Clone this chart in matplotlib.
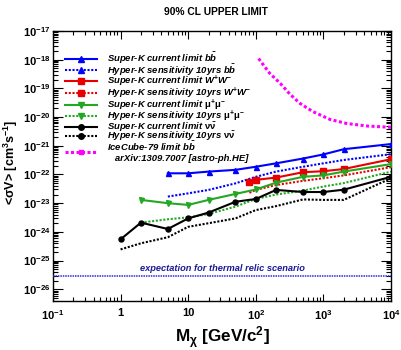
import matplotlib
matplotlib.use("Agg")
import matplotlib.pyplot as plt
from matplotlib.lines import Line2D
from matplotlib.ticker import LogLocator, NullFormatter

plt.rcParams["font.family"] = ["Liberation Sans", "DejaVu Sans"]
plt.rcParams["mathtext.fontset"] = "custom"
plt.rcParams["mathtext.rm"] = "Liberation Sans:bold"
plt.rcParams["mathtext.bf"] = "Liberation Sans:bold"
plt.rcParams["mathtext.it"] = "Liberation Sans:bold:italic"

# ---- data (mass in GeV, <sigma v> in cm^3/s) ----
sk_bb_m = [5, 10, 20, 50, 100, 200, 500, 1000, 2000, 10000]
sk_bb = [1.1e-22, 1.1e-22, 1.26e-22, 1.45e-22, 1.86e-22, 2.45e-22, 3.6e-22, 5.0e-22, 7.6e-22, 1.15e-21]
hk_bb = [1.7e-23, 2.2e-23, 2.9e-23, 4.9e-23, 8.3e-23, 1.26e-22, 1.86e-22, 2.45e-22, 3.2e-22, 5.1e-22]

ww_m = [80.4, 100, 200, 500, 1000, 2000, 10000]
sk_ww = [5.4e-23, 6.5e-23, 7.8e-23, 1.2e-22, 1.3e-22, 1.55e-22, 3.4e-22]
hk_ww = [2.3e-23, 2.9e-23, 4.3e-23, 6.0e-23, 7.4e-23, 9.3e-23, 1.8e-22]

mumu_m = [2, 5, 10, 20, 50, 100, 200, 500, 1000, 2000, 10000]
sk_mumu = [1.3e-23, 1.0e-23, 8.7e-24, 1.3e-23, 2.1e-23, 3.0e-23, 5.2e-23, 8.3e-23, 9.3e-23, 1.26e-22, 2.3e-22]
hk_mumu = [2.1e-24, 2.75e-24, 3.2e-24, 4.2e-24, 7.6e-24, 1.4e-23, 2.0e-23, 2.75e-23, 3.8e-23, 5.0e-23, 1.26e-22]

nunu_m = [1, 2, 5, 10, 20, 50, 100, 200, 500, 1000, 2000, 10000]
sk_nunu = [5.5e-25, 2.1e-24, 1.26e-24, 2.95e-24, 4.7e-24, 1.12e-23, 1.4e-23, 2.9e-23, 2.45e-23, 2.45e-23, 2.95e-23, 8.3e-23]
hk_nunu = [2.45e-25, 4.0e-25, 6.5e-25, 1.5e-24, 2.0e-24, 2.95e-24, 5.75e-24, 7.9e-24, 1.35e-23, 1.3e-23, 1.3e-23, 7.4e-23]

ic_m = [110, 160, 230, 320, 450, 700, 1250, 2200, 4400, 10000]
ic_bb = [1.1e-18, 3.4e-19, 1.5e-19, 6.3e-20, 3.0e-20, 1.55e-20, 8.3e-21, 6.0e-21, 4.9e-21, 4.4e-21]

THERMAL = 3e-26

C_BLUE, C_RED, C_GREEN, C_MAG = "#0000ff", "#e80000", "#22a822", "#ff00ff"
DOT = (0, (1, 0.8))

fig = plt.figure(figsize=(4.02, 3.5), dpi=100, facecolor="white")
ax = fig.add_axes([0.1318, 0.14, 0.8408, 0.7714])

series = [
    (sk_bb_m, sk_bb, C_BLUE, "-", "^", "Super-K current limit b$\\bar{b}$"),
    (sk_bb_m, hk_bb, C_BLUE, DOT, "^", "Hyper-K sensitivity 10yrs b$\\bar{b}$"),
    (ww_m, sk_ww, C_RED, "-", "s", "Super-K current limit W$^{+}$W$^{-}$"),
    (ww_m, hk_ww, C_RED, DOT, "s", "Hyper-K sensitivity 10yrs W$^{+}$W$^{-}$"),
    (mumu_m, sk_mumu, C_GREEN, "-", "v", "Super-K current limit $\\mathrm{\u03bc^{+}\u03bc^{-}}$"),
    (mumu_m, hk_mumu, C_GREEN, DOT, "v", "Hyper-K sensitivity 10yrs $\\mathrm{\u03bc^{+}\u03bc^{-}}$"),
    (nunu_m, sk_nunu, "black", "-", "o", "Super-K current limit $\\mathrm{\u03bd\\bar{\u03bd}}$"),
    (nunu_m, hk_nunu, "black", DOT, "o", "Hyper-K sensitivity 10yrs $\\mathrm{\u03bd\\bar{\u03bd}}$"),
]

handles = []
for m, v, c, ls, mk, lab in series:
    solid = ls == "-"
    ax.plot(m, v, color=c, ls=ls, lw=1.5,
            marker=mk if solid else None, ms=3.6 if mk != "s" else 4.0, zorder=4)
    handles.append(Line2D([], [], color=c, ls=ls, lw=1.5, marker=mk,
                          ms=4.0 if mk != "s" else 4.2))

ax.plot(ic_m, ic_bb, color=C_MAG, ls=DOT, lw=2.2, zorder=4)
handles.append(Line2D([], [], color=C_MAG, ls=DOT, lw=2.2, marker="s", ms=3.2))
labels = [s[5] for s in series] + ["IceCube-79 limit b$\\bar{b}$\n   arXiv:1309.7007 [astro-ph.HE]"]

ax.axhline(THERMAL, color="#2a2ae0", ls=(0, (1, 0.6)), lw=1.1, zorder=3)
ax.text(31.6, 5.1e-26, "expectation for thermal relic scenario", ha="center", va="center",
        fontsize=6.7, fontweight="bold", fontstyle="italic", color="#1a1a9a")

# negative spacing: mathtext labels carry extra padding, rows sit ~10 px apart in the original
leg = ax.legend(handles, labels, loc="upper left", bbox_to_anchor=(0.025, 0.94),
                frameon=False, fontsize=6.8, handlelength=3.4, handletextpad=1.0,
                labelspacing=-0.38, borderaxespad=0, numpoints=1)
for t in leg.get_texts():
    t.set_fontweight("bold")
    t.set_fontstyle("italic")

ax.set_xscale("log")
ax.set_yscale("log")
ax.set_xlim(0.1, 1e4)
ax.set_ylim(3.9e-27, 1e-17)

ax.set_xticks([0.1, 1, 10, 100, 1000, 10000])
ax.set_xticklabels(["$10^{-1}$", "1", "10", "$10^{2}$", "$10^{3}$", "$10^{4}$"])
ax.set_yticks([10.0 ** e for e in range(-26, -16)])
ax.set_yticklabels(["$10^{%d}$" % e for e in range(-26, -16)])
for axis in (ax.xaxis, ax.yaxis):
    axis.set_minor_locator(LogLocator(base=10, subs=range(2, 10), numticks=100))
    axis.set_minor_formatter(NullFormatter())
for lbl in ax.get_xticklabels() + ax.get_yticklabels():
    lbl.set_fontweight("bold")
    lbl.set_fontsize(8)

ax.tick_params(which="both", direction="in", top=True, right=True, width=0.8, color="black")
ax.tick_params(axis="x", which="major", length=5.4, pad=5)
ax.tick_params(axis="x", which="minor", length=2.9)
ax.tick_params(axis="y", which="major", length=7.2, pad=2)
ax.tick_params(axis="y", which="minor", length=3.6)
for s in ax.spines.values():
    s.set_linewidth(1.0)

ax.set_xlabel("M$_{\\mathrm{\u03c7}}$ [GeV/c$^{2}$]", fontsize=12.3, fontweight="bold", labelpad=2)
ax.set_ylabel("<\u03c3V> [cm$^{3}$s$^{-1}$]", fontsize=9.0, fontweight="bold")
ax.yaxis.set_label_coords(-0.098, 0.515)

fig.text(0.537, 0.965, "90% CL UPPER LIMIT", ha="center", va="center",
         fontsize=7.4, fontweight="bold")

fig.savefig("out.png", dpi=100, facecolor="white")
